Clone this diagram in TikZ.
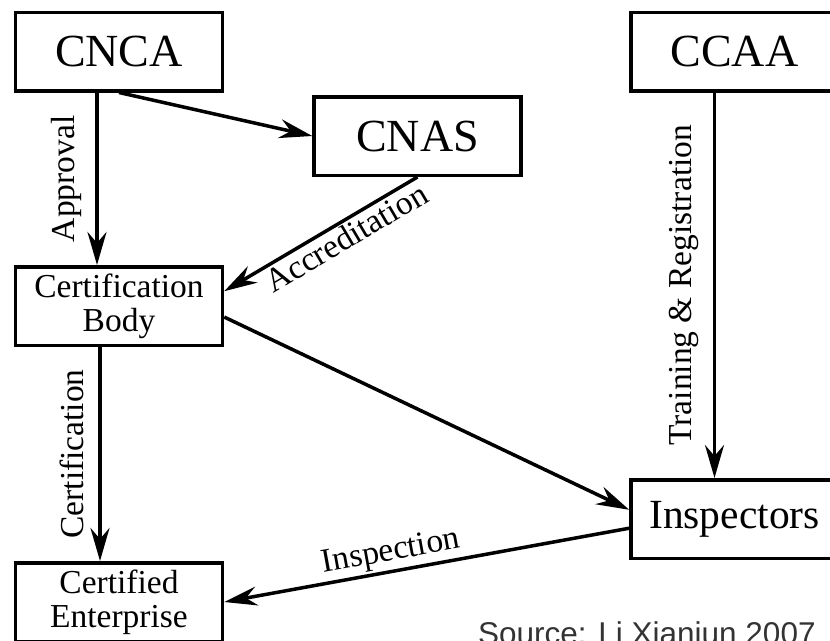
\documentclass[tikz,border=0pt]{standalone}
\usepackage{fontspec}
\setmainfont{Liberation Serif}
\newfontfamily\sourcefont{Liberation Sans}
\usetikzlibrary{arrows.meta, positioning}
\definecolor{sourcegray}{HTML}{333333}

\begin{document}
\begin{tikzpicture}[
    x=1pt, y=-1pt,
    node distance=172pt,
    box/.style={draw, rectangle, line width=3.5pt, minimum width=207pt, minimum height=78.5pt, align=center, inner sep=2pt},
    bigbox/.style={box, font=\fontsize{46}{50}\selectfont},
    midbox/.style={box, font=\fontsize{41.5}{45}\selectfont},
    smallbox/.style={box, font=\fontsize{33.5}{34}\selectfont},
    arrow/.style={-{Stealth[length=33pt, width=19pt, inset=11pt]}, line width=3.5pt},
    lbl/.style={font=\fontsize{33.5}{36}\selectfont, inner sep=2pt},
    vlbl/.style={lbl, rotate=90, anchor=south, inner sep=14pt}
]
\useasboundingbox (0,0) rectangle (830,640);
\clip (0,0) rectangle (830,640);

% Boxes
\node[bigbox] (cnca) at (119,51.5) {CNCA};
\node[bigbox, below right=2.5pt and 88pt of cnca] (cnas) {CNAS};
\node[bigbox, right=405pt of cnca] (ccaa) {CCAA};
\node[smallbox, below=172.5pt of cnca] (cb) {Certification\\Body};
\node[smallbox, below=214pt of cb] (ce) {Certified\\Enterprise};
\node[midbox, below=385.5pt of ccaa] (insp) {Inspectors};

% Arrows
\draw[arrow] ([xshift=-22pt]cnca.south) -- node[vlbl] {Approval} ([xshift=-22pt]cb.north);
\draw[arrow] (cnca.south) -- (cnas.west);
\draw[arrow] (cnas.south) -- node[lbl, sloped, below, pos=0.41] {Accreditation} (cb.8);
\draw[arrow] (cb.-6) -- (insp.175);
\draw[arrow] ([xshift=-20pt]ccaa.south) -- node[vlbl] {Training \& Registration} ([xshift=-20pt]insp.north);
\draw[arrow] ([xshift=-19pt]cb.south) -- node[vlbl] {Certification} ([xshift=-19pt]ce.north);
\draw[arrow] (insp.185) -- node[lbl, sloped, above, pos=0.58] {Inspection} (ce.east);

% Source
\node[anchor=base west, inner sep=0pt, text=sourcegray, font=\sourcefont\fontsize{31.5}{34}\selectfont] (source) at (478,644.5) {Source: Li Xianjun 2007};

\end{tikzpicture}
\end{document}
